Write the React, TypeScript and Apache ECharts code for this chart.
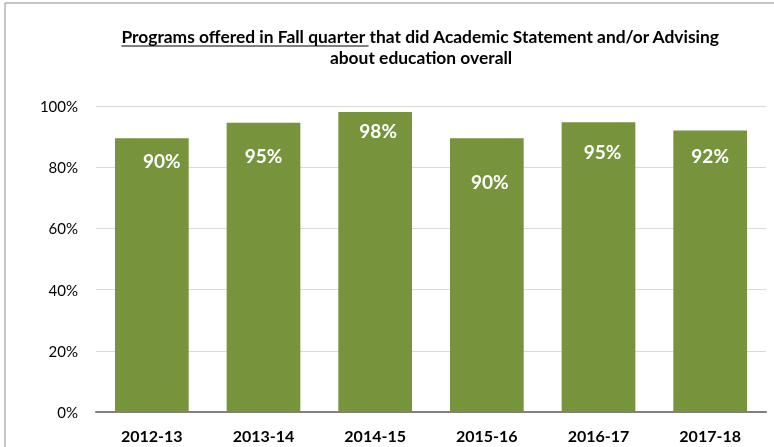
import React, { useEffect, useRef } from "react";
import * as echarts from "echarts";

const categories = ["2012-13", "2013-14", "2014-15", "2015-16", "2016-17", "2017-18"];
const values = [89.5, 94.5, 98, 89.5, 94.7, 92];
const yTicks = [0, 20, 40, 60, 80, 100];
const titleUnderlined = "Programs offered in Fall quarter ";
const titleRest = "that did Academic Statement and/or Advising";
const titleLine2 = "about education overall";
const labelOffsets: [number, number][] = [[10, 8], [0, 18], [3, 4], [3, 29], [4, 15], [0, 11]];

const FONT = "Lato, 'Open Sans', sans-serif";

function measure(text: string, font: string): number {
  const c = document.createElement("canvas");
  const ctx = c.getContext("2d")!;
  ctx.font = font;
  return ctx.measureText(text).width;
}

export default function App() {
  const ref = useRef<HTMLDivElement>(null);
  useEffect(() => {
    if (!ref.current) return;
    const chart = echarts.init(ref.current, undefined, { renderer: "svg" });
    const base = measure(titleUnderlined + titleRest, "bold 15px Lato");
    const size = Math.min(17.5, Math.max(14, (15 * 598) / (base || 514)));
    const tFont = `bold ${size.toFixed(1)}px Lato`;
    const w1 = measure(titleUnderlined, tFont);
    const w2 = measure(titleRest, tFont);
    const total = w1 + w2;
    const cx = 421;
    const x0 = cx - total / 2;
    chart.setOption({
      animation: false,
      grid: { left: 96, right: 8, top: 106, bottom: 35, containLabel: false },
      graphic: [
        { type: "rect", shape: { x: 5, y: 3, width: 900, height: 600 }, style: { fill: "none", stroke: "#8c8c8c", lineWidth: 1 }, silent: true },
        { type: "text", x: x0, y: 36, style: { text: titleUnderlined, font: tFont, fill: "#000", textVerticalAlign: "middle", textAlign: "left" } },
        { type: "text", x: x0 + w1, y: 36, style: { text: titleRest, font: tFont, fill: "#000", textVerticalAlign: "middle", textAlign: "left" } },
        { type: "line", shape: { x1: x0, y1: 46, x2: x0 + w1 - 1, y2: 46 }, style: { stroke: "#000", lineWidth: 1.2 } },
        { type: "text", x: cx, y: 57, style: { text: titleLine2, font: tFont, fill: "#000", textVerticalAlign: "middle", textAlign: "center" } },
      ],
      xAxis: {
        type: "category",
        data: categories,
        axisLine: { lineStyle: { color: "#808080", width: 2 } },
        axisTick: { show: false },
        axisLabel: { fontFamily: FONT, fontWeight: "bold", fontSize: 16, color: "#000", margin: 15 },
      },
      yAxis: {
        type: "value",
        min: 0,
        max: 100,
        interval: 20,
        axisLine: { show: false },
        axisTick: { show: false },
        splitLine: { lineStyle: { color: "#d9d9d9", width: 1 } },
        axisLabel: {
          fontFamily: FONT, fontSize: 15, color: "#000", margin: 18,
          formatter: (v: number) => (yTicks.includes(v) ? v + "%" : ""),
        },
      },
      series: [
        {
          type: "bar",
          barCategoryGap: "34%",
          itemStyle: { color: "#77933C" },
          data: values.map((v, i) => ({
            value: v,
            label: { offset: labelOffsets[i] },
          })),
          label: {
            show: true,
            position: "insideTop",
            color: "#fff",
            fontFamily: FONT,
            fontWeight: "bold",
            fontSize: 19,
            formatter: (p: any) => Math.round(p.value) + "%",
          },
        },
      ],
    });
    return () => chart.dispose();
  }, []);
  return <div ref={ref} style={{ position: "fixed", left: 0, top: 0, width: 774, height: 447 }} />;
}
